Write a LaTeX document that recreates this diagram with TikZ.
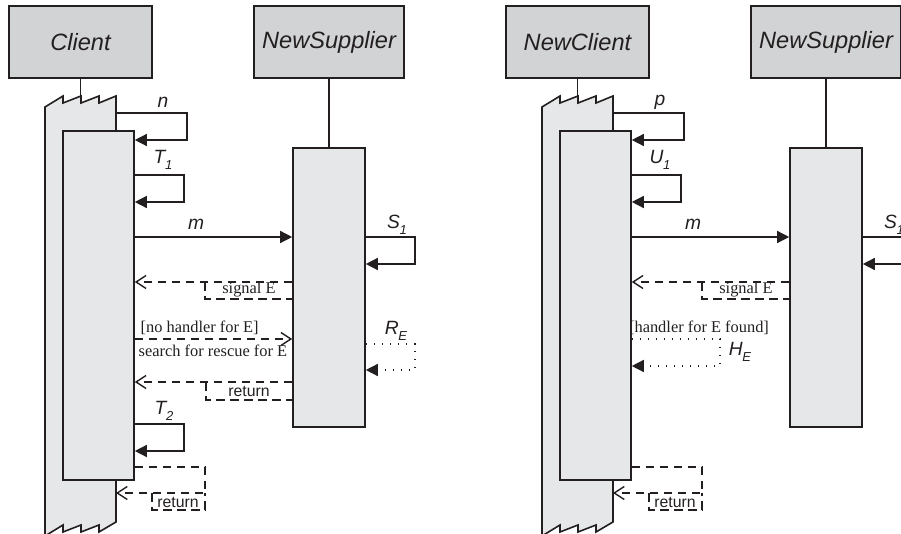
\documentclass[tikz,border=0pt]{standalone}
\usepackage{fontspec}
\setmainfont{Liberation Serif}
\setsansfont{Liberation Sans}
\usetikzlibrary{arrows.meta}
\definecolor{headgray}{RGB}{209,211,212}
\definecolor{actgray}{RGB}{230,231,232}
\definecolor{ink}{RGB}{35,31,32}
\newcommand{\idx}[2]{#1\kern-0.2pt\raisebox{-0.55ex}{\fontsize{6.5}{7}\selectfont #2}}

\begin{document}
\begin{tikzpicture}[x=0.5pt,y=-0.5pt,line width=0.7pt,color=ink,
    headbox/.style={draw=ink,fill=headgray,line width=0.8pt,minimum height=36pt,inner sep=0pt,font=\sffamily\itshape\fontsize{11.8}{14}\selectfont},
    actbox/.style={draw=ink,fill=actgray,line width=0.8pt,inner sep=0pt},
    call/.style={-{Triangle[length=6pt,width=6pt]}},
    reply/.style={dash pattern=on 4.3pt off 2.7pt,-{Straight Barb[length=5pt,width=6.5pt]}},
    replybox/.style={dash pattern=on 4.3pt off 2.7pt},
    handler/.style={dash pattern=on 0.7pt off 3.3pt,-{Triangle[length=6pt,width=6pt]}},
    msglbl/.style={font=\sffamily\itshape\fontsize{9.6}{11}\selectfont,inner sep=0pt},
    guardlbl/.style={font=\fontsize{8.2}{9.5}\selectfont,inner sep=0pt},
    retlbl/.style={font=\sffamily\fontsize{7.9}{9}\selectfont,inner sep=0pt}]
    \def\seqhalf#1#2#3#4{
    \node[headbox,minimum width=71.5pt] (cl) at (80.5,42) {#1};
    \node[headbox,minimum width=75pt] (sp) at (329,42) {#2};
    % broken outer activation of the client
    \draw[fill=actgray,line width=0.8pt] (45,107) -- (63,96) -- (63,103) -- (81,96) -- (81,103) -- (99,96) -- (99,103) -- (116,96) -- (116,522) -- (99,532) -- (99,525) -- (81,532) -- (81,525) -- (63,532) -- (63,525) -- (45,536) -- cycle;
    \draw (cl.south) -- ++(0,18);
    \node[actbox,minimum width=35.5pt,minimum height=174.5pt] (ca) at (98.5,305.5) {};
    \node[actbox,minimum width=36pt,minimum height=139.5pt] (sa) at (329,287.5) {};
    \draw (sp) -- (sa);
    \draw[call] (116,113) -- (187,113) -- (187,140) -- (ca.east |- 0,140);
    \node[msglbl] (first) at (163,102) {#3};
    \draw[call] (ca.east |- 0,175) -- (184,175) -- (184,202) -- (ca.east |- 0,202);
    \node[msglbl] (second) at (163,160) {#4};
    \draw[call] (ca.east |- 0,237) -- (sa.west |- 0,237);
    \node[msglbl] (mlbl) at (196,224) {m};
    \draw[call] (sa.east |- 0,237) -- (415,237) -- (415,264) -- (sa.east |- 0,264);
    \node[msglbl] (slbl) at (397,225) {\idx{S}{1}};
    \draw[reply] (sa.west |- 0,282) -- (ca.east |- 0,282);
    \draw[replybox] (205,282) -- (205,299) -- (sa.west |- 0,299);
    \node[guardlbl] (sig) at (249,290) {signal E};
    \draw[reply] (ca.east |- 0,467) -- (205,467) -- (205,493) -- (116,493);
    \draw[replybox] (152,493) -- (152,510) -- (205,510) -- (205,493);
    \node[retlbl] (ret) at (178,502) {return};
    }

    \useasboundingbox (0,0) rectangle (901,534);
    \clip (0,0) rectangle (901,534);

    \begin{scope}[name prefix=l-]
    \seqhalf{Client}{NewSupplier}{n}{\idx{T}{1}}
    \draw[reply] (ca.east |- 0,339) -- (sa.west |- 0,339);
    \node[guardlbl,anchor=west] (nohandler) at (140,328) {[no handler for E]};
    \node[guardlbl,anchor=west] (search) at (138,351) {search for rescue for E};
    \draw[handler] (sa.east |- 0,344) -- (415,344) -- (415,370) -- (sa.east |- 0,370);
    \node[msglbl] (rlbl) at (396,331) {\idx{R}{E}};
    \draw[reply] (sa.west |- 0,382) -- (ca.east |- 0,382);
    \draw[replybox] (206,382) -- (206,400) -- (sa.west |- 0,400);
    \node[retlbl] (ret2) at (249,391) {return};
    \draw[call] (ca.east |- 0,424) -- (184,424) -- (184,451) -- (ca.east |- 0,451);
    \node[msglbl] (tlbl) at (164,411) {\idx{T}{2}};
    \end{scope}

    \begin{scope}[shift={(497,0)},name prefix=r-]
    \seqhalf{NewClient}{NewSupplier}{p}{\idx{U}{1}}
    \draw[handler] (ca.east |- 0,339) -- (223,339) -- (223,366) -- (ca.east |- 0,366);
    \node[guardlbl] (found) at (202,328) {[handler for E found]};
    \node[msglbl] (hlbl) at (243,352) {\idx{H}{E}};
    \end{scope}
\end{tikzpicture}
\end{document}
